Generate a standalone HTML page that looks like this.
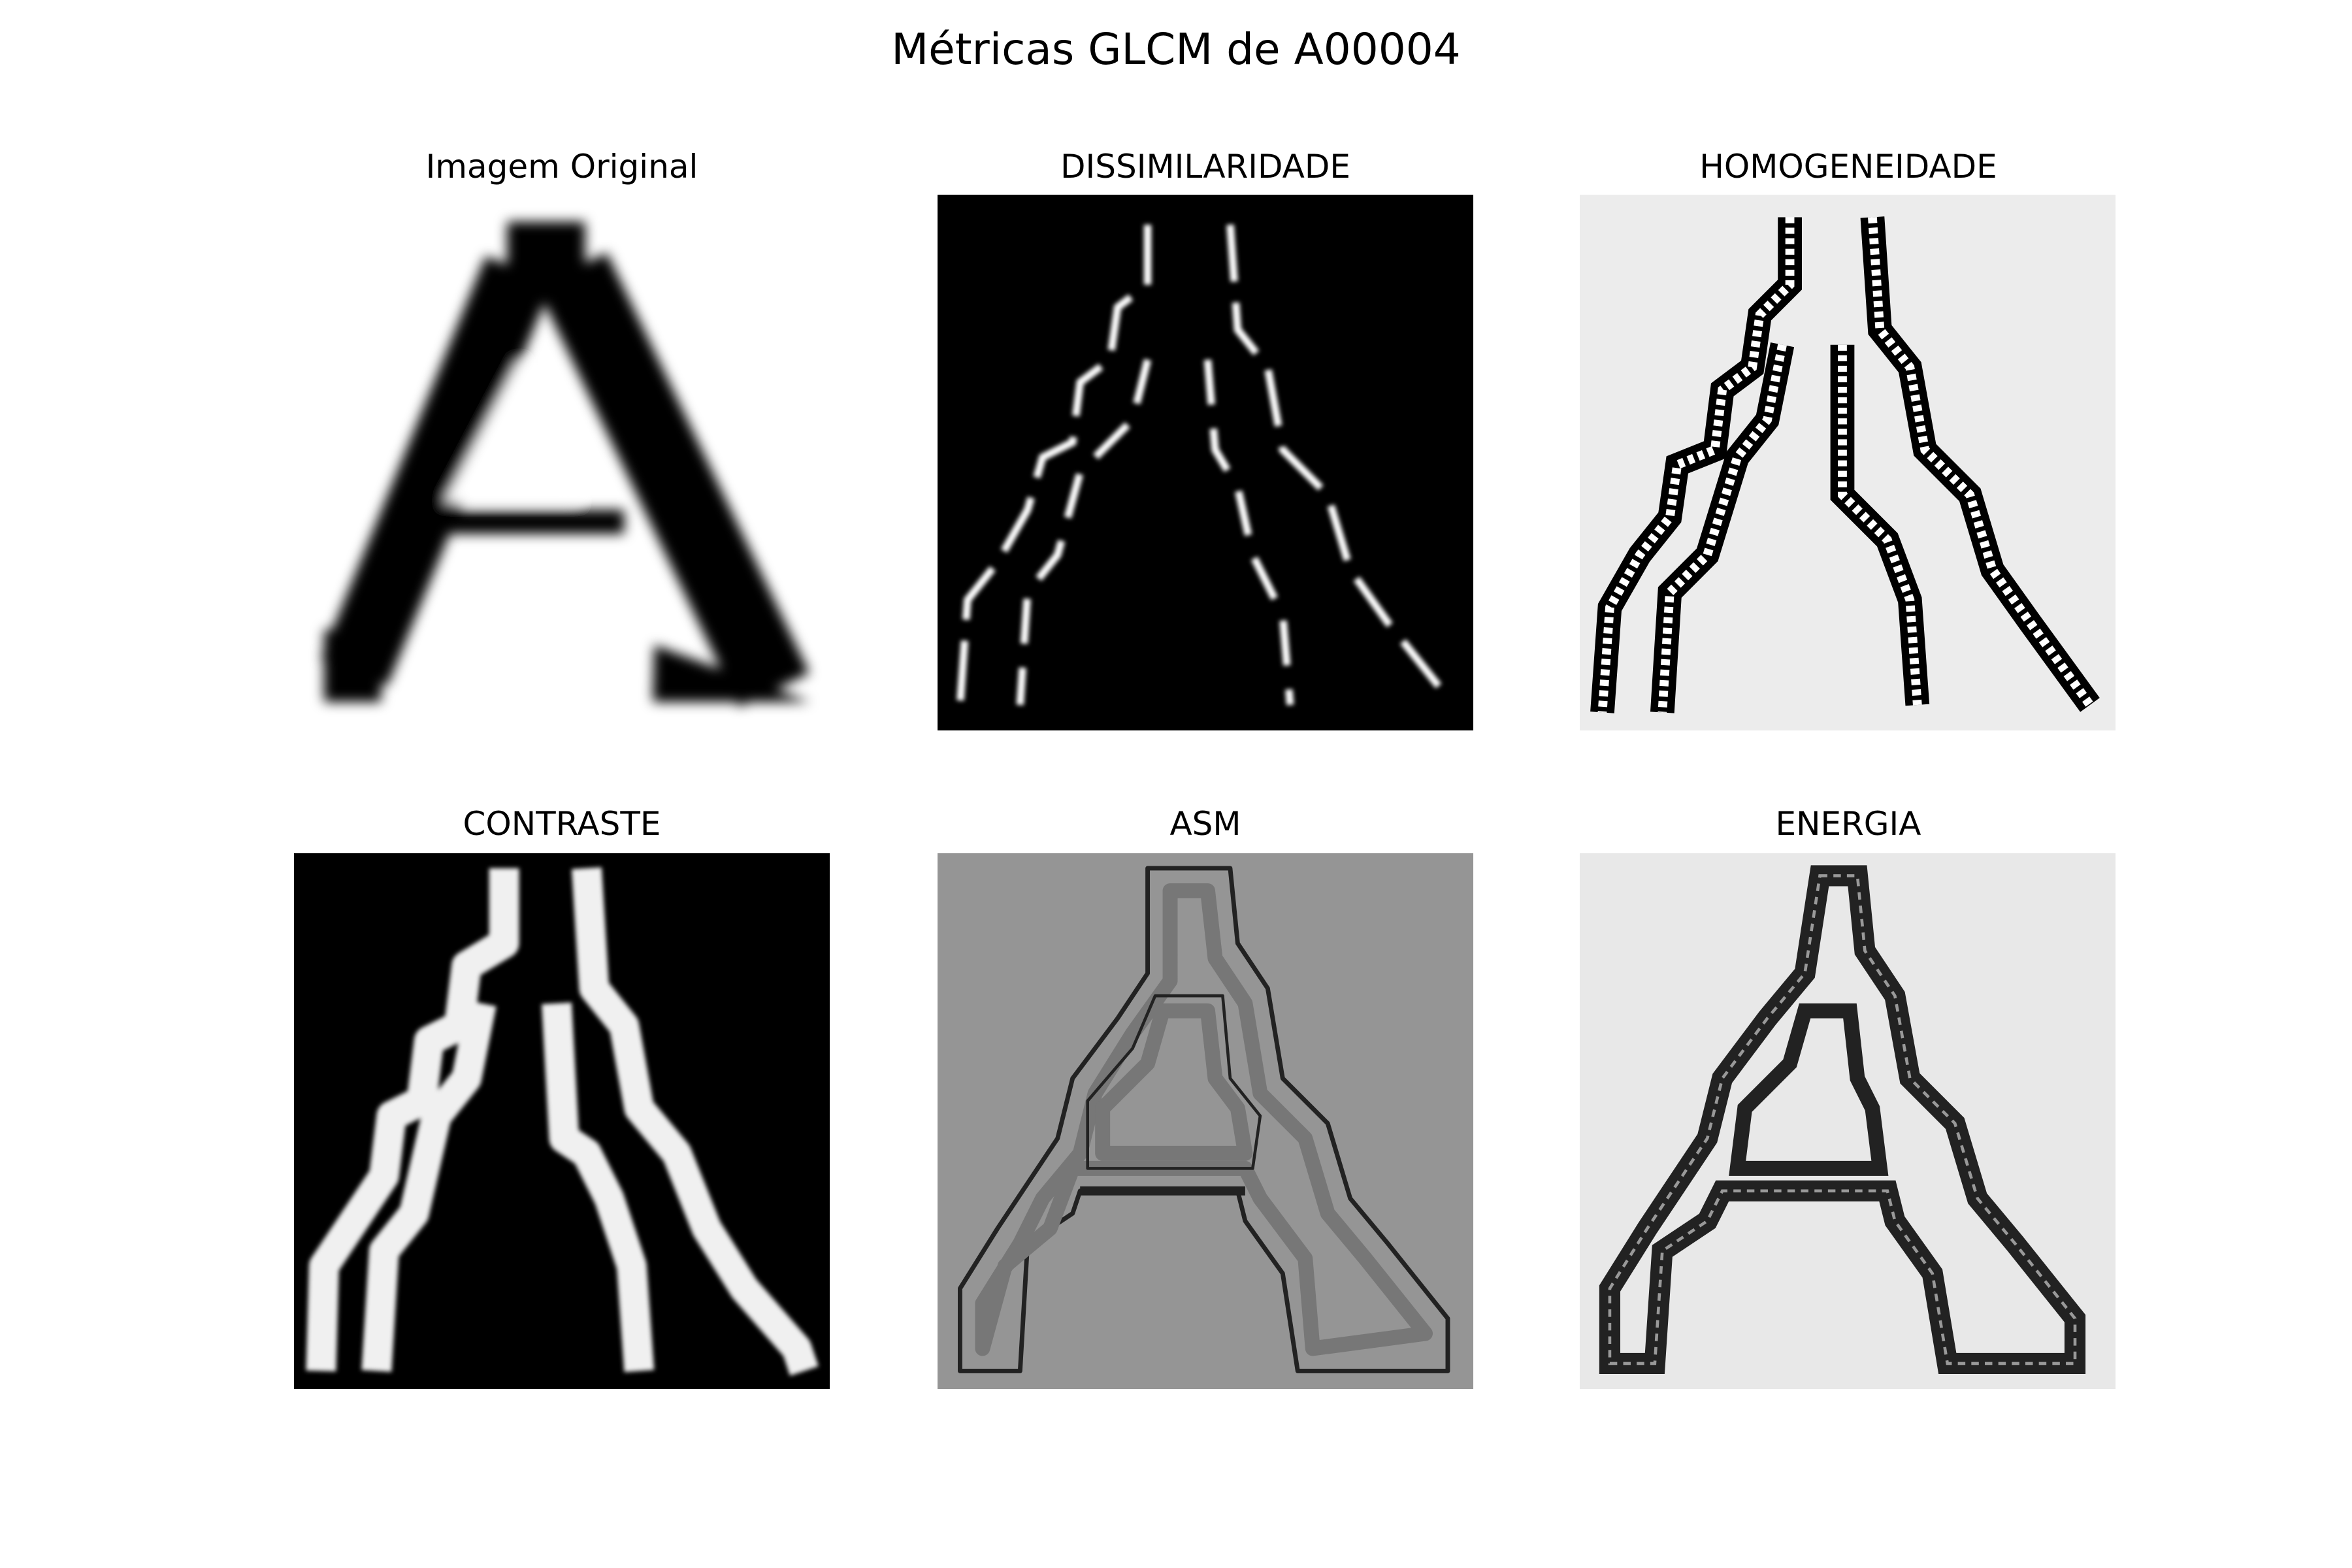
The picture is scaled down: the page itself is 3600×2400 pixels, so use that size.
<!DOCTYPE html>
<html><head><meta charset="utf-8"><style>
html,body{margin:0;padding:0;background:#fff}
svg{display:block}
text{font-family:"DejaVu Sans","Liberation Sans",sans-serif;fill:#000}
</style></head><body>
<svg width="3600" height="2400" viewBox="0 0 3600 2400" xmlns="http://www.w3.org/2000/svg">
<defs>
<filter id="blur" x="-10%" y="-10%" width="120%" height="120%"><feGaussianBlur stdDeviation="4"/></filter>
<filter id="blur2" x="-10%" y="-10%" width="120%" height="120%"><feGaussianBlur stdDeviation="1.5"/></filter>
</defs>
<rect width="3600" height="2400" fill="#fff"/>
<text x="1800" y="98" font-size="66" text-anchor="middle">Métricas GLCM de A00004</text>

<!-- Original -->
<text x="860" y="272" font-size="50" text-anchor="middle">Imagem Original</text>
<g transform="translate(450,298) scale(2.297)">
<g filter="url(#blur)">
<rect x="142" y="18" width="52" height="45" fill="#000"/>
<path d="M150 50 L40 318" stroke="#000" stroke-width="48" fill="none"/>
<path d="M185 50 L320 330" stroke="#000" stroke-width="52" fill="none"/>
<rect x="20" y="290" width="38" height="48" fill="#000"/>
<path d="M240 300 L344 338 L239 338 Z" fill="#000"/>
<rect x="95" y="210" width="125" height="16" fill="#000"/>
<path d="M150 110 L100 205 L190 205 Z" fill="#fff"/>
</g>
</g>

<!-- Dissimilaridade -->
<text x="1845" y="272" font-size="50" text-anchor="middle">DISSIMILARIDADE</text>
<g transform="translate(1435,298) scale(2.297)">
<rect width="357" height="357" fill="#000"/>
<g filter="url(#blur2)" stroke="#fff" stroke-width="5" fill="none">
<path d="M140 20 L140 60 L120 75 L115 110 L95 125 L90 165 L70 175 L60 210 L40 245 L20 270 L15 340" stroke-dasharray="40 14"/>
<path d="M140 110 L130 150 L110 170 L95 185 L80 240 L60 265 L55 340" stroke-dasharray="30 16"/>
<path d="M195 20 L200 90 L220 115 L230 170 L260 200 L275 250 L300 285 L340 335" stroke-dasharray="38 14"/>
<path d="M180 110 L185 170 L200 195 L210 240 L230 280 L235 340" stroke-dasharray="30 16"/>
</g>
</g>

<!-- Homogeneidade -->
<text x="2829" y="272" font-size="50" text-anchor="middle">HOMOGENEIDADE</text>
<g transform="translate(2418,298) scale(2.297)">
<rect width="357" height="357" fill="#ececec"/>
<g fill="none" stroke="#000" stroke-width="16">
<path d="M140 15 L140 60 L120 80 L115 115 L95 130 L90 170 L65 180 L60 215 L40 240 L20 275 L15 345"/>
<path d="M195 15 L200 90 L220 115 L230 170 L260 200 L275 250 L300 285 L340 340"/>
<path d="M175 100 L175 200 L205 230 L220 270 L225 340"/>
<path d="M135 100 L125 150 L105 175 L85 240 L60 265 L55 345"/>
</g>
<g fill="none" stroke="#fff" stroke-width="6" stroke-dasharray="4 3">
<path d="M140 15 L140 60 L120 80 L115 115 L95 130 L90 170 L65 180 L60 215 L40 240 L20 275 L15 345"/>
<path d="M195 15 L200 90 L220 115 L230 170 L260 200 L275 250 L300 285 L340 340"/>
<path d="M175 100 L175 200 L205 230 L220 270 L225 340"/>
<path d="M135 100 L125 150 L105 175 L85 240 L60 265 L55 345"/>
</g>
</g>

<!-- Contraste -->
<text x="860" y="1278" font-size="50" text-anchor="middle">CONTRASTE</text>
<g transform="translate(450,1306) scale(2.297)">
<rect width="357" height="357" fill="#000"/>
<g fill="none" stroke="#f0f0f0" stroke-width="20" stroke-linejoin="round" filter="url(#blur2)">
<path d="M140 10 L140 60 L115 75 L110 115 L90 125 L85 165 L65 175 L60 215 L40 245 L20 275 L18 345"/>
<path d="M195 10 L200 90 L220 115 L230 170 L255 200 L275 250 L300 290 L335 330 L340 345"/>
<path d="M175 100 L180 190 L195 200 L210 230 L225 275 L230 345"/>
<path d="M125 100 L115 150 L95 175 L80 240 L60 265 L55 345"/>
</g>
</g>

<!-- ASM -->
<text x="1845" y="1278" font-size="50" text-anchor="middle">ASM</text>
<g transform="translate(1435,1306) scale(2.297)">
<rect width="357" height="357" fill="#959595"/>
<g fill="none" stroke-linejoin="round">
<path d="M140 10 L195 10 L200 60 L220 90 L230 150 L260 180 L275 230 L300 260 L340 310 L340 345 L240 345 L230 280 L205 245 L200 225 L95 225 L90 240 L60 260 L55 345 L15 345 L15 290 L40 250 L60 220 L80 190 L90 150 L120 110 L140 80 Z" stroke="#222" stroke-width="3"/>
<path d="M155 25 L180 25 L185 70 L205 100 L215 160 L245 190 L260 240 L285 270 L325 320 L250 330 L245 270 L215 230 L205 210 L90 210 L75 250 L45 275 L30 330 L30 300 L55 260 L70 230 L95 200 L105 160 L130 120 L155 85 Z" stroke="#777" stroke-width="10"/>
<path d="M150 105 L180 105 L185 150 L200 170 L205 200 L110 200 L110 170 L140 140 Z" stroke="#777" stroke-width="10"/>
<path d="M145 95 L190 95 L195 150 L215 175 L210 210 L100 210 L100 165 L130 130 Z" stroke="#222" stroke-width="2"/>
<path d="M95 225 L205 225" stroke="#222" stroke-width="6"/>
</g>
</g>

<!-- Energia -->
<text x="2829" y="1278" font-size="50" text-anchor="middle">ENERGIA</text>
<g transform="translate(2418,1306) scale(2.297)">
<rect width="357" height="357" fill="#e8e8e8"/>
<g fill="none" stroke-linejoin="miter">
<path d="M160 15 L185 15 L190 65 L210 95 L220 150 L250 180 L265 230 L290 260 L330 310 L330 340 L245 340 L235 280 L210 245 L205 225 L95 225 L85 245 L55 265 L50 340 L20 340 L20 290 L45 250 L65 220 L85 190 L95 150 L125 110 L150 80 Z" stroke="#222" stroke-width="14"/>
<path d="M150 105 L180 105 L185 150 L195 170 L200 210 L105 210 L110 170 L140 140 Z" stroke="#222" stroke-width="10"/>
<path d="M160 15 L185 15 L190 65 L210 95 L220 150 L250 180 L265 230 L290 260 L330 310 L330 340 L245 340 L235 280 L210 245 L205 225 L95 225 L85 245 L55 265 L50 340 L20 340 L20 290 L45 250 L65 220 L85 190 L95 150 L125 110 L150 80 Z" stroke="#999" stroke-width="2" stroke-dasharray="5 4"/>
</g>
</g>
</svg>
</body></html>
